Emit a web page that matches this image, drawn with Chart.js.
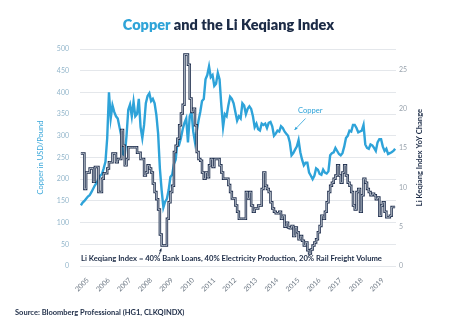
<!DOCTYPE html>
<html>
<head>
<meta charset="utf-8">
<script src="https://cdn.jsdelivr.net/npm/chart.js@4.4.1/dist/chart.umd.min.js"></script>
<style>
  html, body { margin: 0; padding: 0; background: #ffffff; }
  #wrap { position: relative; width: 474px; height: 329px; overflow: hidden; }
  #title { position: absolute; left: 0; top: 17px; width: 457px; text-align: center;
           font-family: Lato, "Open Sans", sans-serif; font-weight: 800; font-size: 14.5px; line-height: 16px; color: #1c2b46; }
  #title .cu { color: #2fa4d8; }
  #source { position: absolute; left: 15px; top: 308px; font-family: Lato, sans-serif; font-weight: 700;
            font-size: 7.5px; line-height: 9px; color: #1c2b46; white-space: nowrap; }
  canvas { position: absolute; left: 0; top: 0; }
</style>
</head>
<body>
<div id="wrap">
  <canvas id="c" width="474" height="329"></canvas>
  <div id="title"><span class="cu">Copper</span> and the Li Keqiang Index</div>
  <div id="source">Source: Bloomberg Professional (HG1, CLKQINDX)</div>
</div>
<script>
// ---- data (monthly, Jan 2005 - Dec 2019) ----
const startYear = 2005;
const yearLabels = [2005, 2006, 2007, 2008, 2009, 2010, 2011, 2012, 2013, 2014, 2015, 2016, 2017, 2018, 2019];

// Copper, US cents per pound
const copper = [
  140, 146, 150, 155, 160, 163, 170, 178, 186, 192, 200, 208,
  212, 225, 240, 295, 400, 340, 370, 355, 345, 340, 320, 300,
  258, 255, 300, 360, 372, 345, 378, 345, 350, 385, 320, 295,
  325, 375, 392, 398, 380, 385, 375, 348, 305, 225, 175, 135,
  148, 155, 175, 205, 210, 235, 245, 285, 280, 295, 315, 330,
  340, 285, 345, 355, 310, 285, 310, 335, 355, 380, 385, 430,
  440, 460, 435, 440, 415, 420, 445, 430, 370, 320, 350, 345,
  370, 390, 385, 375, 355, 335, 345, 340, 375, 370, 350, 362,
  368, 362, 345, 320, 328, 315, 312, 328, 325, 328, 318, 330,
  332, 322, 300, 305, 312, 310, 322, 318, 310, 305, 300, 285,
  255, 260, 268, 275, 290, 262, 245, 232, 238, 238, 215, 208,
  200, 208, 225, 222, 212, 210, 222, 215, 213, 218, 255, 260,
  262, 272, 265, 258, 255, 260, 275, 295, 300, 312, 310, 325,
  325, 318, 308, 310, 312, 325, 280, 272, 270, 280, 278, 272,
  265, 285, 292, 292, 275, 265, 270, 258, 260, 262, 265, 270
];

// Li Keqiang Index, YoY change %
const lki = [
  14.3, 14.3, 9.8, 11.9, 11.9, 12.4, 12.4, 10.7, 12.6, 12.6, 9.4, 9.4,
  11.1, 11.8, 11.8, 12.4, 13.2, 13.2, 14.3, 14.3, 13.2, 13.6, 13.6, 17.3,
  15.3, 12.8, 13.6, 15.1, 15.1, 15.1, 15.1, 15.1, 14.4, 14.4, 13.6, 13.6,
  11.5, 11.9, 12.8, 12.4, 11.9, 10.5, 9.4, 8.5, 7.2, 4.0, 2.6, 2.6,
  2.6, 6.0, 8.1, 9.4, 10.2, 14.5, 15.3, 16.2, 17.9, 19.4, 20.5, 26.9,
  26.9, 25.6, 21.3, 19.6, 20.0, 17.9, 14.5, 13.6, 13.4, 11.9, 11.1, 11.9,
  11.3, 12.8, 13.6, 12.6, 13.6, 13.6, 13.6, 12.8, 11.9, 11.1, 11.1, 11.1,
  10.3, 9.4, 8.6, 8.6, 7.7, 6.9, 6.0, 6.0, 6.0, 6.0, 9.4, 8.6,
  9.4, 7.7, 6.9, 7.3, 7.3, 7.7, 7.7, 9.8, 11.9, 10.2, 9.8, 9.4,
  8.1, 7.3, 6.9, 6.7, 6.7, 6.9, 6.0, 6.4, 5.0, 5.5, 4.9, 4.8,
  5.1, 3.8, 4.9, 4.3, 3.4, 3.8, 3.2, 2.6, 3.0, 2.0, 1.6, 2.1,
  2.6, 3.0, 3.4, 4.3, 5.1, 6.4, 6.0, 6.9, 8.1, 9.4, 10.2, 10.6,
  11.1, 11.5, 12.8, 11.5, 10.6, 11.9, 12.8, 11.5, 10.6, 10.2, 9.4, 7.7,
  7.2, 9.4, 9.8, 6.9, 9.0, 11.1, 10.6, 9.8, 9.4, 9.0, 9.2, 9.0,
  8.5, 8.7, 6.4, 7.7, 8.1, 6.9, 6.2, 6.2, 6.4, 7.5, 7.5, 7.5
];

const copperTicks = [0, 50, 100, 150, 200, 250, 300, 350, 400, 450, 500];
const lkiTicks = [0, 5, 10, 15, 20, 25];

const NAVY = '#1c2b46';
const BLUE = '#2ea3d9';
const FONT = 'Lato, "Open Sans", sans-serif';

const toPoints = arr => arr.map((v, i) => ({ x: startYear + (i + 0.5) / 12, y: v }));

function arrow(ctx, x1, y1, x2, y2, color, w, head) {
  ctx.save();
  ctx.strokeStyle = color; ctx.fillStyle = color; ctx.lineWidth = w;
  ctx.beginPath(); ctx.moveTo(x1, y1); ctx.lineTo(x2, y2); ctx.stroke();
  const a = Math.atan2(y2 - y1, x2 - x1);
  ctx.beginPath();
  ctx.moveTo(x2, y2);
  ctx.lineTo(x2 - head * Math.cos(a - 0.45), y2 - head * Math.sin(a - 0.45));
  ctx.lineTo(x2 - head * Math.cos(a + 0.45), y2 - head * Math.sin(a + 0.45));
  ctx.closePath(); ctx.fill();
  ctx.restore();
}

const extras = {
  id: 'extras',
  afterDatasetsDraw(chart) {
    const ctx = chart.ctx;
    ctx.save();
    // formula note
    ctx.fillStyle = NAVY;
    ctx.font = '700 7.65px ' + FONT;
    ctx.textBaseline = 'middle';
    ctx.textAlign = 'left';
    ctx.fillText('Li Keqiang Index = 40% Bank Loans, 40% Electricity Production, 20% Rail Freight Volume', 81, 259);
    arrow(ctx, 159.3, 254.5, 161.2, 248.5, NAVY, 0.9, 3);
    // copper label
    ctx.fillStyle = BLUE;
    ctx.font = '400 7.6px ' + FONT;
    ctx.fillText('Copper', 298, 111);
    arrow(ctx, 305.5, 118.5, 294.5, 130, BLUE, 0.8, 3.5);
    // right axis title (reads bottom to top)
    ctx.translate(420, 157.5);
    ctx.rotate(-Math.PI / 2);
    ctx.textAlign = 'center';
    ctx.fillStyle = NAVY;
    ctx.font = '700 7.6px ' + FONT;
    ctx.fillText('Li Keqiang Index YoY Change', 0, 0);
    ctx.restore();
  }
};

function draw() {
  new Chart(document.getElementById('c'), {
    type: 'line',
    data: {
      datasets: [
        { label: 'LKI inner', data: toPoints(lki), yAxisID: 'yR', stepped: 'before',
          borderColor: '#cdd4dc', borderWidth: 0.8, pointRadius: 0, order: 0 },
        { label: 'Li Keqiang Index', data: toPoints(lki), yAxisID: 'yR', stepped: 'before',
          borderColor: '#1f2e4d', borderWidth: 2.5, pointRadius: 0, order: 1 },
        { label: 'Copper', data: toPoints(copper), yAxisID: 'yL',
          borderColor: BLUE, borderWidth: 2.4, pointRadius: 0, tension: 0, order: 2 }
      ]
    },
    options: {
      responsive: false,
      animation: false,
      devicePixelRatio: 1,
      layout: { padding: { top: 49, bottom: 23, left: 0, right: 0 } },
      plugins: { legend: { display: false }, tooltip: { enabled: false }, title: { display: false } },
      scales: {
        x: {
          type: 'linear', min: 2005, max: 2020,
          grid: { display: false }, border: { display: false },
          afterBuildTicks: s => { s.ticks = yearLabels.map(y => ({ value: y + 0.37 })); },
          afterFit: s => { s.height = 40; },
          ticks: {
            autoSkip: false, minRotation: 45, maxRotation: 45, padding: 2,
            color: '#6f7a86', font: { family: FONT, size: 7 },
            callback: (v, i) => String(yearLabels[i])
          }
        },
        yL: {
          position: 'left', min: 0, max: 500,
          afterBuildTicks: s => { s.ticks = copperTicks.map(v => ({ value: v })); },
          afterFit: s => { s.width = 80; },
          grid: { color: '#e4e7eb', lineWidth: 1, drawTicks: false },
          border: { display: false },
          ticks: { padding: 11, color: '#93b6cb', font: { family: FONT, size: 7 } },
          title: { display: true, text: 'Copper in USD/Pound', color: '#3aa7da',
                   font: { family: FONT, size: 7.5, weight: '400' }, padding: { top: 36, bottom: 0 } }
        },
        yR: {
          position: 'right', min: 0, max: 27.6,
          afterBuildTicks: s => { s.ticks = lkiTicks.map(v => ({ value: v })); },
          afterFit: s => { s.width = 78; },
          grid: { display: false, drawTicks: false },
          border: { display: false },
          ticks: { padding: 3, color: '#9aa4ae', font: { family: FONT, size: 7 } }
        }
      }
    },
    plugins: [extras]
  });
}

if (document.fonts && document.fonts.load) {
  Promise.all([
    document.fonts.load('400 7px Lato'),
    document.fonts.load('700 7px Lato'),
    document.fonts.load('800 14px Lato')
  ]).then(draw, draw);
} else {
  draw();
}
</script>
</body>
</html>
